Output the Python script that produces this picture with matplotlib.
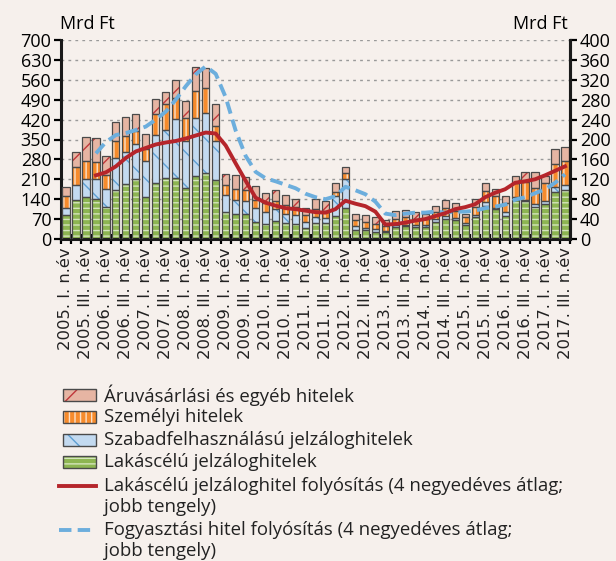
import matplotlib

matplotlib.use("Agg")
import matplotlib.pyplot as plt
import numpy as np
from matplotlib.patches import Rectangle
from matplotlib.lines import Line2D

# negyedéves adatok, 2005. I. n.év - 2017. III. n.év (Mrd Ft)
years = list(range(2005, 2018))
quarters = [f"{y}. {q}. n.év" for y in years for q in ["I", "II", "III", "IV"]][:51]

lakascelu = [83, 138, 147, 142, 111, 172, 192, 210, 149, 197, 213, 213, 181, 223, 231, 208,
             94, 87, 87, 59, 53, 62, 56, 53, 40, 55, 57, 80, 108, 33, 30, 26, 23, 43, 44, 41,
             41, 61, 72, 66, 51, 78, 116, 105, 82, 136, 132, 114, 124, 166, 174]
szabad = [27, 51, 63, 68, 65, 114, 115, 123, 124, 169, 169, 208, 164, 203, 211, 137,
          61, 51, 46, 49, 43, 42, 33, 32, 21, 23, 16, 70, 102, 11, 7, 8, 5, 7, 6, 7,
          7, 8, 8, 7, 6, 7, 14, 5, 12, 11, 5, 8, 10, 16, 16]
szemelyi = [42, 63, 66, 60, 48, 59, 56, 46, 43, 72, 92, 76, 82, 94, 90, 53,
            34, 38, 38, 29, 29, 31, 32, 27, 25, 28, 26, 15, 22, 23, 24, 20, 19, 20, 28, 22,
            24, 27, 30, 27, 21, 28, 40, 40, 34, 51, 63, 57, 64, 82, 86]
aruvas = [32, 55, 84, 84, 67, 65, 65, 61, 52, 55, 42, 62, 60, 85, 68, 76,
          39, 48, 48, 49, 36, 37, 35, 30, 22, 34, 35, 31, 22, 21, 22, 22, 20, 27, 23, 26,
          15, 21, 26, 27, 10, 27, 27, 25, 25, 23, 35, 56, 25, 51, 47]

# 4 negyedéves átlagok (jobb tengely), 2005. IV. n.év-től
lak_folyositas = [128, 134, 146, 163, 176, 183, 190, 194, 197, 202, 208, 214, 212, 188,
                  152, 117, 83, 73, 67, 62, 60, 57, 54, 53, 60, 77, 71, 66, 55, 29, 30, 33,
                  37, 40, 46, 52, 60, 64, 70, 84, 93, 100, 113, 116, 120, 128, 137, 146]
fogy_folyositas = [172, 195, 209, 213, 219, 226, 240, 256, 280, 307, 331, 347, 332, 285,
                   218, 167, 135, 122, 116, 109, 102, 91, 84, 80, 86, 105, 98, 90, 75, 51,
                   48, 51, 53, 53, 55, 53, 55, 55, 57, 62, 65, 69, 79, 84, 92, 100, 113, 130]

bg = "#F6F0EC"
W, H = 616, 561
txt_font = "Open Sans"
plt.rcParams["hatch.linewidth"] = 1.0


def fx(px):
    return px / W


def fy(py):
    return 1 - py / H


fig = plt.figure(figsize=(W / 100, H / 100), dpi=100, facecolor=bg)
ax = fig.add_axes([fx(61), fy(239), fx(570 - 61), (239 - 40) / H], facecolor=bg)

x = np.arange(len(quarters))
w = 0.72
edge = "#4A4A4A"
series = [
    (lakascelu, "#8DB552", "#D4E5BC", "---", "Lakáscélú jelzáloghitelek"),
    (szabad, "#C3DAF0", "#5E9FD3", "\\", "Szabadfelhasználású jelzáloghitelek"),
    (szemelyi, "#F68B2C", "#FBE0C8", "|||", "Személyi hitelek"),
    (aruvas, "#E6B5A3", "#C0373A", "/", "Áruvásárlási és egyéb hitelek"),
]
bottom = np.zeros(len(x))
for vals, fc, hc, hatch, label in series:
    ax.bar(x, vals, w, bottom=bottom, color=fc, edgecolor=hc, hatch=hatch, lw=0, zorder=2)
    ax.bar(x, vals, w, bottom=bottom, fill=False, edgecolor=edge, lw=0.9, zorder=3)
    bottom += np.array(vals)

ax.set_xlim(-0.42, len(x) - 0.58)
ax.set_ylim(0, 700)
ax.set_yticks(np.arange(0, 701, 70))
ax.yaxis.grid(True, ls=(0, (2, 3)), color="#9A9A9A", lw=1.0, zorder=0)
ax.set_axisbelow(True)

ax.set_xticks(x[::2])
ax.set_xticklabels(quarters[::2], rotation=90, fontsize=11.8, family="DejaVu Sans", color="#222222")
ax.set_xticks(np.arange(-0.5, len(x), 1), minor=True)
ax.tick_params(axis="x", which="major", length=0, pad=6)
ax.tick_params(axis="x", which="minor", length=7, width=1.6, direction="inout")
ax.tick_params(axis="y", length=5, width=1.6, labelsize=13, pad=2)
for lab in ax.get_yticklabels():
    lab.set_family(txt_font)

ax.spines["top"].set_visible(False)
for s in ["left", "right", "bottom"]:
    ax.spines[s].set_linewidth(2.2)
    ax.spines[s].set_color("#1A1A1A")

ax2 = ax.twinx()
ax2.set_ylim(0, 400)
ax2.set_yticks(np.arange(0, 401, 40))
ax2.tick_params(axis="y", length=5, width=1.6, labelsize=13, pad=2)
for lab in ax2.get_yticklabels():
    lab.set_family(txt_font)
for s in ["top", "left", "bottom"]:
    ax2.spines[s].set_visible(False)
ax2.spines["right"].set_linewidth(2.2)
ax2.spines["right"].set_color("#1A1A1A")

red_c, blue_c = "#B5252B", "#6CAEDD"
xl = x[3:]
ax2.plot(xl, fogy_folyositas, color=blue_c, lw=2.8, dashes=(3.2, 1.6), zorder=4)
ax2.plot(xl, lak_folyositas, color=red_c, lw=2.8, solid_joinstyle="round", zorder=5)

fig.text(fx(60), fy(24), "Mrd Ft", family=txt_font, fontsize=13, ha="left", va="center")
fig.text(fx(568), fy(24), "Mrd Ft", family=txt_font, fontsize=13, ha="right", va="center")

# jelmagyarázat kézzel: minta 62-96 px, szöveg 104 px-től
leg_size = 13.4
row_y = [395, 417, 440, 462]
for (vals, fc, hc, hatch, label), ry in zip(series[::-1], row_y):
    r0 = Rectangle((fx(63), fy(ry + 6)), fx(33), 12 / H, transform=fig.transFigure,
                   facecolor=fc, edgecolor=hc, hatch=hatch, lw=0)
    r1 = Rectangle((fx(63), fy(ry + 6)), fx(33), 12 / H, transform=fig.transFigure,
                   fill=False, edgecolor=edge, lw=1.0)
    fig.add_artist(r0)
    fig.add_artist(r1)
    fig.text(fx(104), fy(ry), label, family=txt_font, fontsize=leg_size, va="center", color="#222222")

line_rows = [
    (486, red_c, None, ["Lakáscélú jelzáloghitel folyósítás (4 negyedéves átlag;", "jobb tengely)"]),
    (530, blue_c, (3.2, 1.6), ["Fogyasztási hitel folyósítás (4 negyedéves átlag;", "jobb tengely)"]),
]
for ry, col, dash, lines in line_rows:
    ln = Line2D([fx(59), fx(96)], [fy(ry), fy(ry)], transform=fig.transFigure, color=col, lw=2.8)
    if dash:
        ln.set_dashes(dash)
    fig.add_artist(ln)
    for i, t in enumerate(lines):
        fig.text(fx(104), fy(ry + 21.5 * i), t, family=txt_font, fontsize=leg_size, va="center",
                 color="#222222")

fig.savefig("out.png", dpi=100, facecolor=bg)
